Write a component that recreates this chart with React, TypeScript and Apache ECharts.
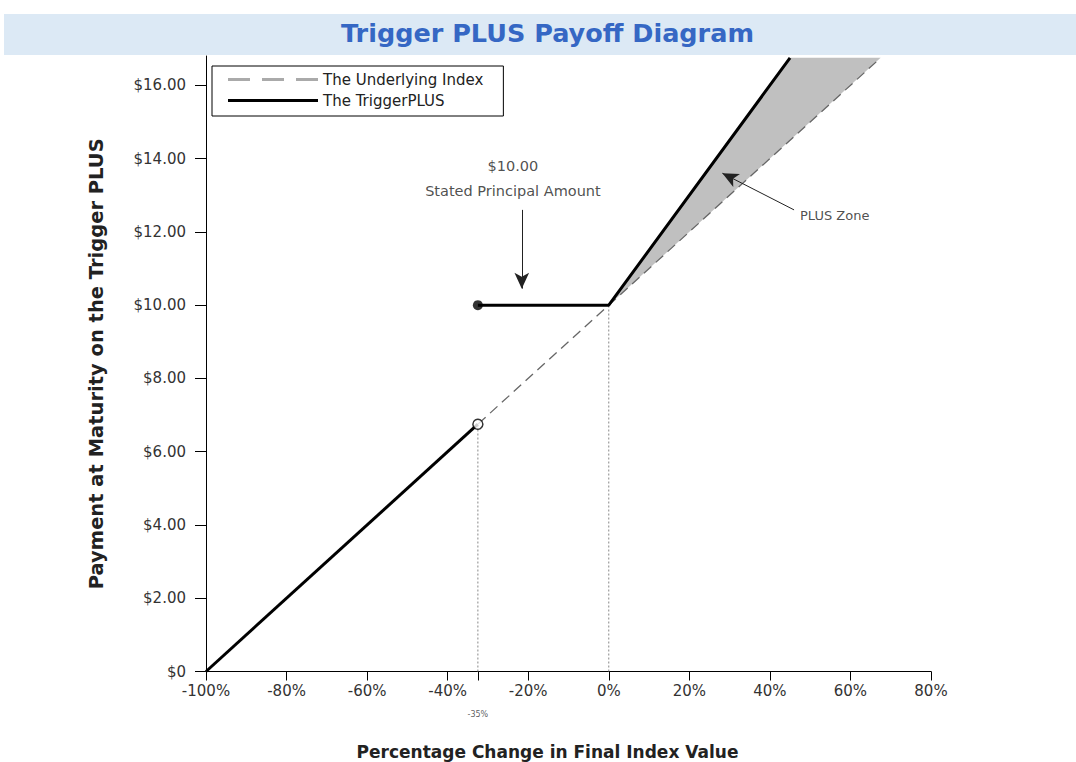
import React, { useEffect, useRef } from "react";
import * as echarts from "echarts";

// ---- data ----
const titleText = "Trigger PLUS Payoff Diagram";
const xAxisTitle = "Percentage Change in Final Index Value";
const yAxisTitle = "Payment at Maturity on the Trigger PLUS";
const xMin = -100;
const xMax = 80;
const xStep = 20;
const yMin = 0;
const yMax = 16.8;
const yTickValues = [0, 2, 4, 6, 8, 10, 12, 14, 16];
const barrierX = -32.5; // where the barrier is drawn in the picture
const barrierLabel = "-35%";
const xTickValues = [-100, -80, -60, -40, barrierX, -20, 0, 20, 40, 60, 80];
const xLabelValues = [-100, -80, -60, -40, -20, 0, 20, 40, 60, 80];

const underlyingName = "The Underlying Index";
const triggerName = "The TriggerPLUS";
const underlyingPoints = [
  [-100, 0],
  [67.5, 16.75],
];
const triggerLower = [
  [-100, 0],
  [barrierX, 6.75],
];
const triggerUpper = [
  [barrierX, 10],
  [0, 10],
  [45, 16.75],
];
const plusZone = [
  [0, 10],
  [45, 16.75],
  [67.5, 16.75],
];
const barrierDot = [[barrierX, 10]];
const barrierOpen = [[barrierX, 6.75]];
const dropLineBarrier = [
  [barrierX, 0],
  [barrierX, 6.75],
];
const dropLineZero = [
  [0, 0],
  [0, 10],
];
const principalArrow = [
  [-21.6, 12.6],
  [-21.6, 10.45],
];
const zoneArrow = [
  [46, 12.6],
  [28.2, 13.6],
];
const principalText = "$10.00\nStated Principal Amount";
const principalTextPos = [-23.8, 13.47];
const zoneText = "PLUS Zone";
const zoneTextPos = [56.1, 12.46];

const FONT = "DejaVu Sans";
const DASH_ICON =
  "path://M0,0h22v3h-22z M34,0h22v3h-22z M68,0h22v3h-22z";
const SOLID_ICON = "path://M0,0h90v3h-90z";

export default function App() {
  const ref = useRef<HTMLDivElement>(null);

  useEffect(() => {
    if (!ref.current) return;
    const chart = echarts.init(ref.current, undefined, { renderer: "svg" });

    const option: any = {
      animation: false,
      backgroundColor: "#ffffff",
      textStyle: { fontFamily: FONT },
      title: {
        text: titleText,
        left: 341,
        top: 20,
        padding: 0,
        textStyle: {
          fontFamily: FONT,
          fontSize: 25.5,
          fontWeight: "bold",
          color: "#3567c4",
        },
      },
      graphic: [
        {
          type: "rect",
          z: -10,
          silent: true,
          shape: { x: 4, y: 14, width: 1072, height: 41 },
          style: { fill: "#dce9f5" },
        },
      ],
      legend: {
        left: 212,
        top: 66,
        orient: "vertical",
        padding: [6, 20, 8, 16],
        borderColor: "#000",
        borderWidth: 1,
        backgroundColor: "#fff",
        itemWidth: 90,
        itemHeight: 3,
        itemGap: 6,
        symbolKeepAspect: false,
        selectedMode: false,
        textStyle: { fontFamily: FONT, fontSize: 15, color: "#222" },
        data: [
          {
            name: underlyingName,
            icon: DASH_ICON,
            itemStyle: { color: "#aaa" },
          },
          {
            name: triggerName,
            icon: SOLID_ICON,
            itemStyle: { color: "#000" },
          },
        ],
      },
      grid: {
        left: 206,
        right: 145,
        top: 56,
        bottom: 90.5,
        containLabel: false,
        outerBoundsMode: "none",
      },
      xAxis: {
        type: "value",
        min: xMin,
        max: xMax,
        interval: xStep,
        name: xAxisTitle,
        nameLocation: "middle",
        nameGap: 72,
        nameTextStyle: {
          fontFamily: FONT,
          fontSize: 17,
          fontWeight: "bold",
          color: "#222",
          padding: [0, 42, 0, 0],
        },
        splitLine: { show: false },
        axisLine: { onZero: false, lineStyle: { color: "#000", width: 1 } },
        axisTick: {
          show: true,
          length: 9,
          inside: false,
          customValues: xTickValues,
          lineStyle: { color: "#000" },
        },
        axisLabel: {
          customValues: xLabelValues,
          margin: 12,
          fontFamily: FONT,
          fontSize: 15,
          color: "#333",
          formatter: (v: number) => `${v}%`,
        },
      },
      yAxis: {
        type: "value",
        min: yMin,
        max: yMax,
        interval: 2,
        name: yAxisTitle,
        nameLocation: "middle",
        nameGap: 100,
        nameRotate: 90,
        nameTextStyle: {
          fontFamily: FONT,
          fontSize: 19.5,
          fontWeight: "bold",
          color: "#222",
        },
        splitLine: { show: false },
        axisLine: { show: true, onZero: false, lineStyle: { color: "#000", width: 1 } },
        axisTick: {
          show: true,
          length: 11,
          customValues: yTickValues,
          lineStyle: { color: "#000" },
        },
        axisLabel: {
          customValues: yTickValues,
          margin: 20,
          fontFamily: FONT,
          fontSize: 15,
          color: "#333",
          formatter: (v: number) => (v === 0 ? "$0" : `$${v.toFixed(2)}`),
        },
      },
      series: [
        {
          name: "zone",
          type: "custom",
          silent: true,
          z: 1,
          data: [[0, 10]],
          renderItem: (_params: any, api: any) => ({
            type: "polygon",
            shape: { points: plusZone.map((p) => api.coord(p)) },
            style: { fill: "#c0c0c0", stroke: "none" },
          }),
        },
        {
          name: underlyingName,
          type: "line",
          z: 2,
          symbol: "none",
          silent: true,
          data: underlyingPoints,
          lineStyle: { color: "#666", width: 1.3, type: [10, 6] },
          itemStyle: { color: "#aaa" },
        },
        {
          name: "drop",
          type: "line",
          z: 2,
          symbol: "none",
          silent: true,
          data: dropLineBarrier,
          lineStyle: { color: "#888", width: 1, type: [2, 2] },
        },
        {
          name: "drop0",
          type: "line",
          z: 2,
          symbol: "none",
          silent: true,
          data: dropLineZero,
          lineStyle: { color: "#888", width: 1, type: [2, 2] },
        },
        {
          name: triggerName,
          type: "line",
          z: 3,
          symbol: "none",
          silent: true,
          data: triggerLower,
          lineStyle: { color: "#000", width: 3 },
          itemStyle: { color: "#000" },
        },
        {
          name: triggerName,
          type: "line",
          z: 3,
          symbol: "none",
          silent: true,
          data: triggerUpper,
          lineStyle: { color: "#000", width: 3 },
          itemStyle: { color: "#000" },
        },
        {
          name: "dot",
          type: "scatter",
          z: 4,
          silent: true,
          symbol: "circle",
          symbolSize: 10,
          data: barrierDot,
          itemStyle: { color: "#000" },
        },
        {
          name: "open",
          type: "scatter",
          z: 4,
          silent: true,
          symbol: "circle",
          symbolSize: 10,
          data: barrierOpen,
          itemStyle: { color: "#fff", borderColor: "#000", borderWidth: 1.5 },
        },
        {
          name: "arrows",
          type: "line",
          data: [],
          silent: true,
          markLine: {
            silent: true,
            symbol: ["none", "arrow"],
            symbolSize: [11, 16],
            label: { show: false },
            lineStyle: { color: "#222", width: 1, type: "solid" },
            data: [
              [{ coord: principalArrow[0] }, { coord: principalArrow[1] }],
              [{ coord: zoneArrow[0] }, { coord: zoneArrow[1] }],
            ],
          },
        },
        {
          name: "texts",
          type: "scatter",
          silent: true,
          symbolSize: 0,
          z: 5,
          data: [
            {
              value: principalTextPos,
              label: {
                show: true,
                position: "inside",
                formatter: principalText,
                fontSize: 14.5,
                lineHeight: 25,
                align: "center",
                color: "#222",
                fontFamily: FONT,
              },
            },
            {
              value: zoneTextPos,
              label: {
                show: true,
                position: "inside",
                formatter: zoneText,
                fontSize: 13,
                color: "#222",
                fontFamily: FONT,
              },
            },
            {
              value: [barrierX, 0],
              label: {
                show: true,
                position: "inside",
                offset: [0, 43],
                formatter: barrierLabel,
                fontSize: 8,
                color: "#333",
                fontFamily: FONT,
              },
            },
          ],
        },
      ],
    };

    chart.setOption(option);
    return () => chart.dispose();
  }, []);

  return (
    <div
      ref={ref}
      style={{ position: "fixed", left: 0, top: 0, width: 1076, height: 762 }}
    />
  );
}
